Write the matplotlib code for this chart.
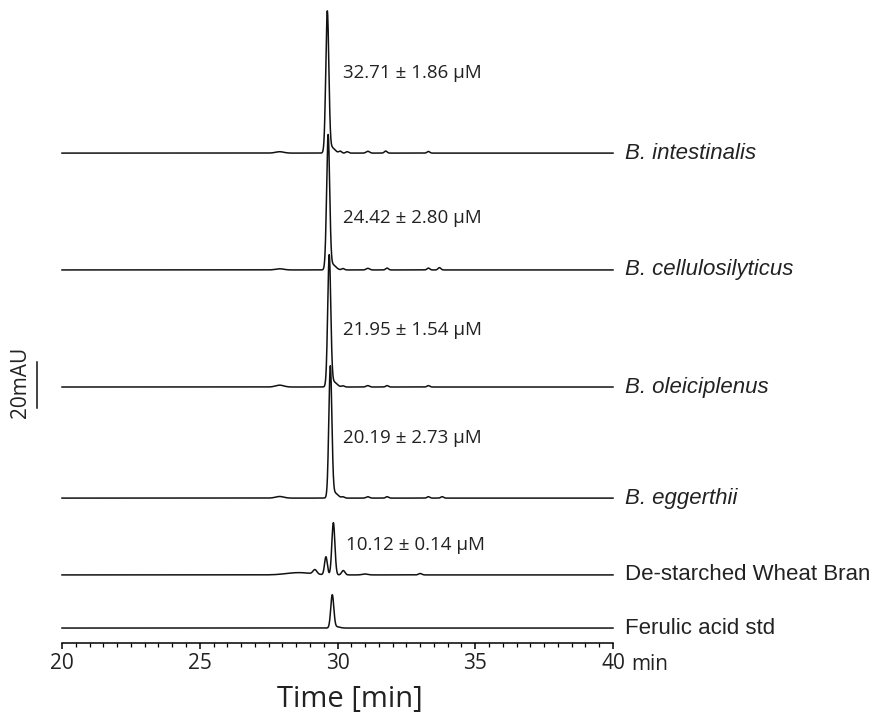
import matplotlib
matplotlib.use("Agg")
import matplotlib.pyplot as plt
import numpy as np

# trace names (bottom to top order is reversed below)
names = ["B. intestinalis", "B. cellulosilyticus", "B. oleiciplenus",
         "B. eggerthii", "De-starched Wheat Bran", "Ferulic acid std"]
italic = [True, True, True, True, False, False]

# vertical offset of each trace baseline (mAU)
offsets = [213.0, 162.2, 111.3, 63.0, 29.6, 6.5]

# peaks per trace: (retention time [min], height [mAU], sigma [min])
peaks = [
    [(27.9, 0.6, 0.15), (29.63, 60.7, 0.055), (29.78, 2.5, 0.12), (30.1, 0.8, 0.05),
     (30.35, 0.6, 0.05), (31.1, 0.8, 0.06), (31.75, 0.9, 0.05), (33.3, 0.7, 0.05)],
    [(27.9, 0.5, 0.15), (29.66, 57.8, 0.055), (29.81, 2.4, 0.12), (30.2, 0.6, 0.05),
     (31.1, 0.7, 0.06), (31.8, 0.8, 0.05), (33.3, 0.8, 0.05), (33.7, 1.0, 0.05)],
    [(27.9, 0.8, 0.15), (29.70, 56.5, 0.055), (29.85, 2.3, 0.12), (30.2, 0.5, 0.05),
     (31.1, 0.6, 0.06), (31.8, 0.6, 0.05), (33.3, 0.6, 0.05)],
    [(27.9, 0.7, 0.15), (29.74, 56.5, 0.055), (29.89, 2.3, 0.12), (30.2, 0.5, 0.05),
     (31.1, 0.6, 0.06), (31.8, 0.6, 0.05), (33.3, 0.6, 0.05), (33.8, 0.6, 0.05)],
    [(28.6, 1.0, 0.45), (29.18, 1.9, 0.07), (29.58, 7.8, 0.05), (29.85, 22.7, 0.055),
     (30.21, 1.9, 0.06), (31.0, 0.4, 0.1), (33.0, 0.6, 0.06)],
    [(29.81, 14.2, 0.055), (29.95, 0.6, 0.12)],
]

# concentration annotations: (text, time [min], level [mAU])
notes = [("32.71 \u00b1 1.86 \u03bcM", 30.2, 248.0),
         ("24.42 \u00b1 2.80 \u03bcM", 30.2, 184.8),
         ("21.95 \u00b1 1.54 \u03bcM", 30.2, 136.1),
         ("20.19 \u00b1 2.73 \u03bcM", 30.2, 89.1),
         ("10.12 \u00b1 0.14 \u03bcM", 30.3, 42.6)]

xticks = [20, 25, 30, 35, 40]
xticklabels = ["20", "25", "30", "35", "40"]

t = np.linspace(20, 40, 4001)

fig = plt.figure(figsize=(8.75, 7.15), dpi=100)
ax = fig.add_axes([62 / 875, 72 / 715, 551 / 875, 643 / 715])

for name, off, pk, it in zip(names, offsets, peaks, italic):
    y = np.full_like(t, off)
    for rt, h, s in pk:
        y += h * np.exp(-0.5 * ((t - rt) / s) ** 2)
    ax.plot(t, y, color="#111111", lw=1.1, clip_on=False)
    ax.text(40.45, off, name, fontsize=16, family="Liberation Sans",
            style="italic" if it else "normal", color="#222222",
            ha="left", va="center")

for txt, x, yv in notes:
    ax.text(x, yv, txt, fontsize=13.5, family="Open Sans", color="#222222",
            ha="left", va="center")

ax.set_xlim(20, 40)
ax.set_ylim(0, 643 / 2.3)
for s in ["left", "top", "right"]:
    ax.spines[s].set_visible(False)
ax.spines["bottom"].set_linewidth(1.1)
ax.set_yticks([])
ax.set_xticks(xticks)
ax.set_xticklabels(xticklabels, family="Open Sans", fontsize=15, color="#222222")
ax.set_xticks(np.arange(20, 40.01, 0.5), minor=True)
ax.tick_params(axis="x", which="major", direction="out", length=4.5, width=1.1, pad=3)
ax.tick_params(axis="x", which="minor", direction="out", length=2.8, width=0.9)

ax.text(40.65, -0.0165, "min", transform=ax.get_xaxis_transform(), family="Open Sans",
        fontsize=15, color="#222222", ha="left", va="top")

# 20 mAU scale bar
ax.plot([19.093, 19.093], [(643 - 408) / 2.3, (643 - 362) / 2.3], color="#111111",
        lw=1.1, clip_on=False)
ax.text(18.51, 113.5, "20mAU", rotation=90, family="Open Sans", fontsize=15,
        color="#222222", ha="center", va="center")

fig.text(350 / 875, 1 - 700 / 715, "Time [min]", family="Open Sans", fontsize=21,
         color="#222222", ha="center", va="center")

fig.savefig("out.png", dpi=100)
